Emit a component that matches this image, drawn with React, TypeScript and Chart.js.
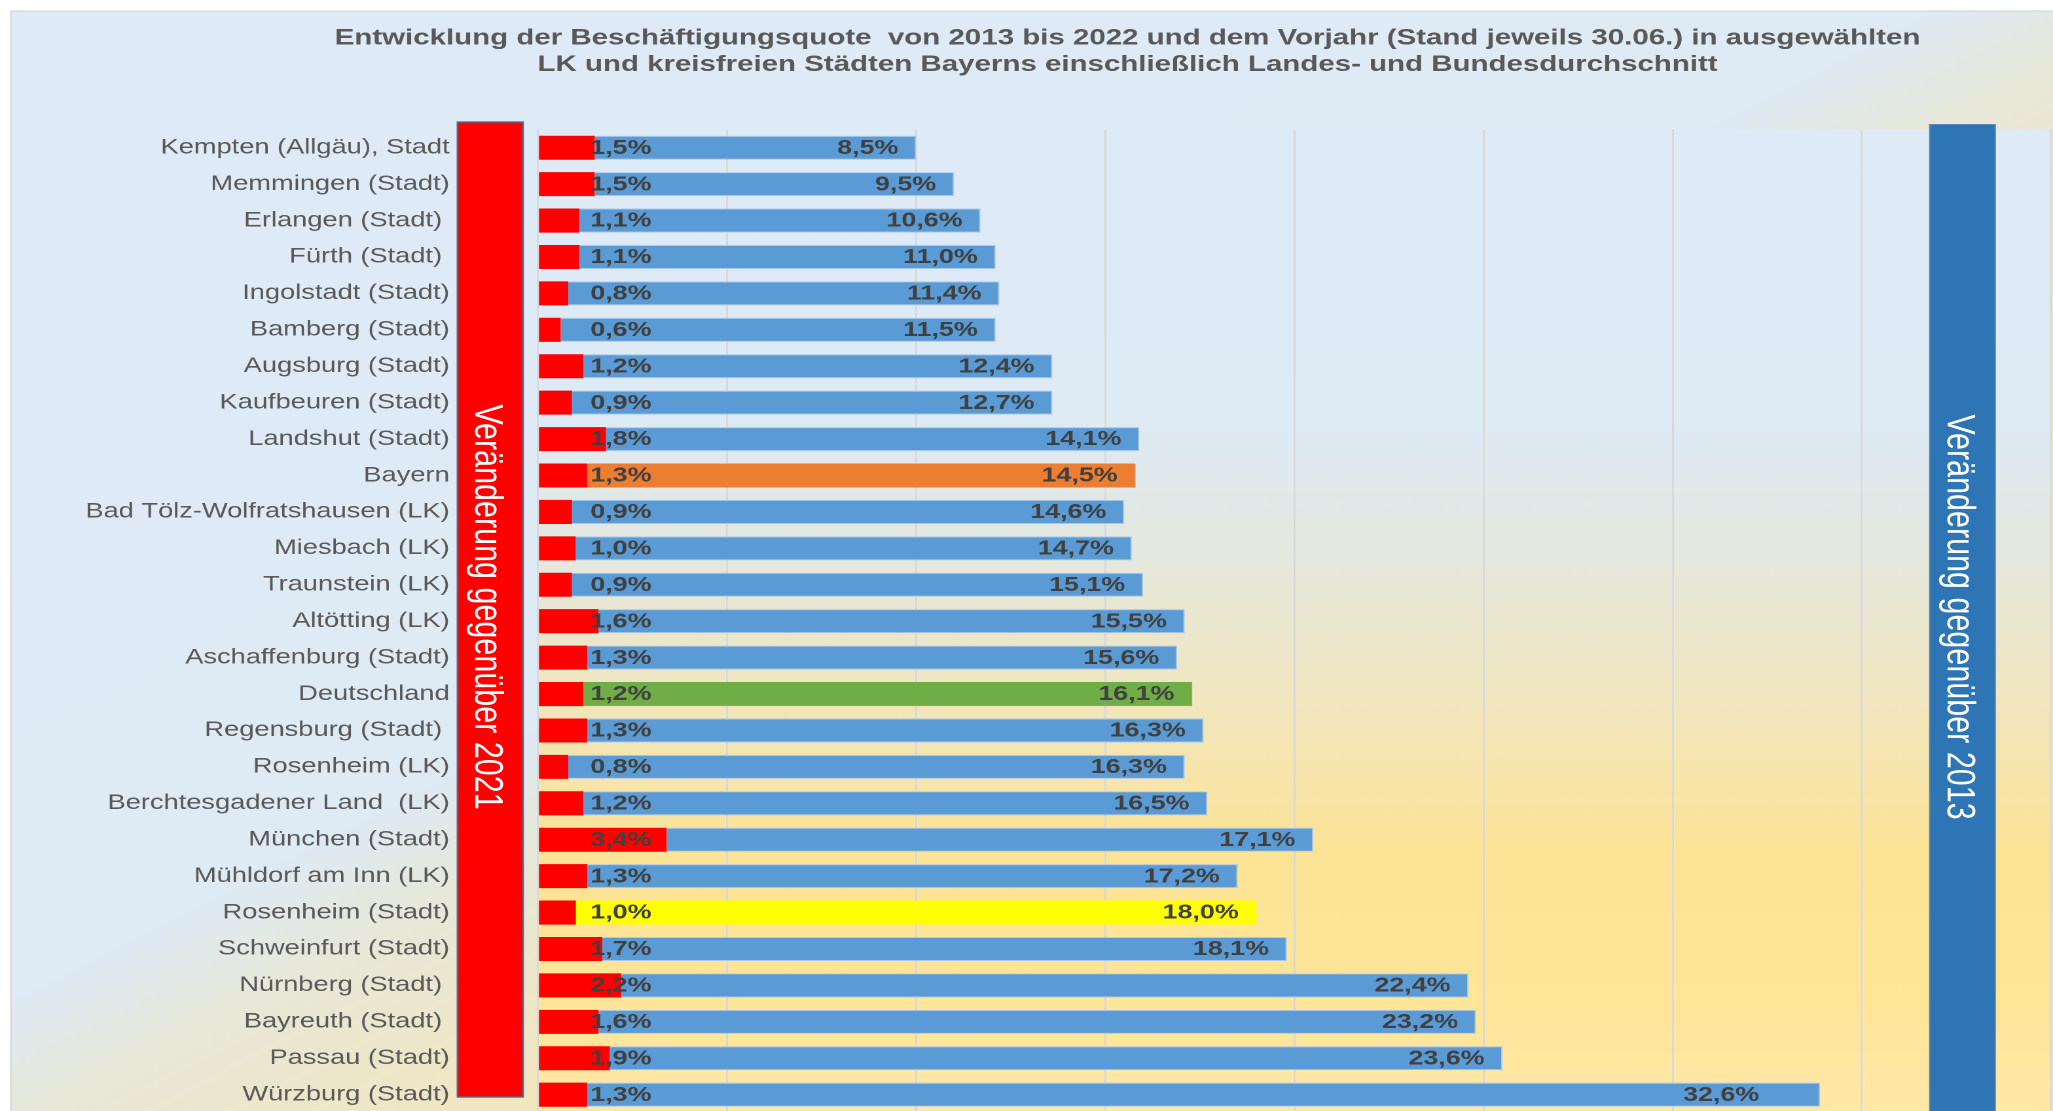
import React, { useEffect, useRef } from 'react';
import { Chart, registerables } from 'chart.js';

Chart.register(...registerables);

// ---------- data ----------
const categories = [
  'Kempten (Allgäu), Stadt',
  'Memmingen (Stadt)',
  'Erlangen (Stadt) ',
  'Fürth (Stadt) ',
  'Ingolstadt (Stadt)',
  'Bamberg (Stadt)',
  'Augsburg (Stadt)',
  'Kaufbeuren (Stadt)',
  'Landshut (Stadt)',
  'Bayern',
  'Bad Tölz-Wolfratshausen (LK)',
  'Miesbach (LK)',
  'Traunstein (LK)',
  'Altötting (LK)',
  'Aschaffenburg (Stadt)',
  'Deutschland',
  'Regensburg (Stadt) ',
  'Rosenheim (LK)',
  'Berchtesgadener Land  (LK)',
  'München (Stadt)',
  'Mühldorf am Inn (LK)',
  'Rosenheim (Stadt)',
  'Schweinfurt (Stadt)',
  'Nürnberg (Stadt) ',
  'Bayreuth (Stadt) ',
  'Passau (Stadt)',
  'Würzburg (Stadt)',
];

const change2021 = [1.5, 1.5, 1.1, 1.1, 0.8, 0.6, 1.2, 0.9, 1.8, 1.3, 0.9, 1.0, 0.9, 1.6, 1.3, 1.2, 1.3, 0.8, 1.2, 3.4, 1.3, 1.0, 1.7, 2.2, 1.6, 1.9, 1.3];
const change2013 = [8.5, 9.5, 10.6, 11.0, 11.4, 11.5, 12.4, 12.7, 14.1, 14.5, 14.6, 14.7, 15.1, 15.5, 15.6, 16.1, 16.3, 16.3, 16.5, 17.1, 17.2, 18.0, 18.1, 22.4, 23.2, 23.6, 32.6];

const titleLines = [
  'Entwicklung der Beschäftigungsquote  von 2013 bis 2022 und dem Vorjahr (Stand jeweils 30.06.) in ausgewählten',
  'LK und kreisfreien Städten Bayerns einschließlich Landes- und Bundesdurchschnitt',
];
const series2021Label = 'Veränderung gegenüber 2021';
const series2013Label = 'Veränderung gegenüber 2013';
const xTicks = [0, 5, 10, 15, 20, 25, 30, 35, 40];

// ---------- styling ----------
const FONT = "'Liberation Sans', Arial, sans-serif";
const W = 1568; // logical canvas width (stretched to 2053 on screen)
const H = 1120;
const highlight: Record<string, string> = {
  Bayern: '#ED7D31',
  Deutschland: '#70AD47',
  'Rosenheim (Stadt)': '#FFFF00',
};
const fmt = (v: number) => v.toFixed(1).replace('.', ',') + '%';

const decor = {
  id: 'decor',
  beforeDraw(chart: any) {
    const { ctx, chartArea: ca, width, height } = chart;
    ctx.save();
    ctx.fillStyle = '#FFFFFF';
    ctx.fillRect(0, 0, width, height);
    // outer chart background (diagonal gradient)
    const ox = 8.4, oy = 11;
    const g = ctx.createLinearGradient(ox, oy, ox + 0.56 * 1800, oy + 0.83 * 1800);
    g.addColorStop(0, '#DEEBF7');
    g.addColorStop(0.456, '#DEEAF4');
    g.addColorStop(0.508, '#E7E8DA');
    g.addColorStop(0.578, '#EEE7C8');
    g.addColorStop(0.667, '#F4E6B8');
    g.addColorStop(1, '#FBE4A3');
    ctx.fillStyle = g;
    ctx.fillRect(ox, oy, width, height);
    ctx.strokeStyle = '#D9D9D9';
    ctx.lineWidth = 1.3;
    ctx.strokeRect(ox, oy, width + 50, height + 50);
    // plot area background (vertical gradient)
    const pg = ctx.createLinearGradient(0, ca.top, 0, ca.bottom);
    pg.addColorStop(0, '#DEEBF7');
    pg.addColorStop(0.306, '#DEEAF4');
    pg.addColorStop(0.438, '#E5E8DD');
    pg.addColorStop(0.58, '#F1E6BF');
    pg.addColorStop(0.733, '#FCE396');
    pg.addColorStop(0.885, '#FFE598');
    pg.addColorStop(1, '#FFE9A8');
    ctx.fillStyle = pg;
    ctx.fillRect(ca.left, ca.top, ca.right - ca.left, ca.bottom - ca.top);
    ctx.restore();
  },
  afterDatasetsDraw(chart: any) {
    const { ctx } = chart;
    const xs = chart.scales.x;
    const ys = chart.scales.y;
    const metaBlue = chart.getDatasetMeta(1);
    ctx.save();
    ctx.font = `bold 20.5px ${FONT}`;
    ctx.fillStyle = '#404040';
    ctx.textAlign = 'right';
    ctx.textBaseline = 'middle';
    categories.forEach((_, i) => {
      const yc = ys.getPixelForValue(i) + 0.5;
      ctx.fillText(fmt(change2021[i]), xs.getPixelForValue(3), yc);
      const end = metaBlue.data[i].x;
      const inset = i === categories.length - 1 ? 46.6 : 13.7;
      ctx.fillText(fmt(change2013[i]), end - inset, yc);
    });
    ctx.restore();
  },
  afterDraw(chart: any) {
    const { ctx } = chart;
    ctx.save();
    // title
    ctx.font = `bold 22.5px ${FONT}`;
    ctx.fillStyle = '#595959';
    ctx.textAlign = 'center';
    ctx.textBaseline = 'alphabetic';
    ctx.fillText(titleLines[0], 861.2, 44.3);
    ctx.fillText(titleLines[1], 861.2, 71);

    // red box (change vs 2021)
    ctx.fillStyle = '#FF0000';
    ctx.fillRect(349.4, 122, 50.1, 975);
    ctx.strokeStyle = '#41719C';
    ctx.lineWidth = 1.3;
    ctx.strokeRect(349.4, 122, 50.1, 975);
    // blue box (change vs 2013)
    ctx.fillStyle = '#2E75B6';
    ctx.fillRect(1473.8, 124.5, 50.1, 1100);
    ctx.strokeStyle = '#5F86AD';
    ctx.lineWidth = 1;
    ctx.strokeRect(1473.8, 124.5, 50.1, 1100);

    ctx.font = `30.5px ${FONT}`;
    ctx.fillStyle = '#FFFFFF';
    ctx.textAlign = 'center';
    ctx.textBaseline = 'alphabetic';
    ctx.save();
    ctx.translate(362.8, 607);
    ctx.rotate(Math.PI / 2);
    ctx.fillText(series2021Label, 0, 0);
    ctx.restore();
    ctx.save();
    ctx.translate(1487.6, 617);
    ctx.rotate(Math.PI / 2);
    ctx.fillText(series2013Label, 0, 0);
    ctx.restore();
    ctx.restore();
  },
};

export default function App() {
  const ref = useRef<HTMLCanvasElement>(null);
  useEffect(() => {
    const canvas = ref.current;
    if (!canvas) return;
    const chart = new Chart(canvas, {
      type: 'bar',
      data: {
        labels: categories,
        datasets: [
          {
            label: series2021Label,
            data: change2021,
            backgroundColor: '#FF0000',
            borderWidth: 0,
            categoryPercentage: 1,
            barPercentage: 0.66,
          },
          {
            label: series2013Label,
            data: change2013,
            backgroundColor: categories.map((c) => highlight[c.trim()] ?? '#5B9BD5'),
            borderColor: categories.map((c) => highlight[c.trim()] ?? '#A9C9EA'),
            borderWidth: 1,
            categoryPercentage: 1,
            barPercentage: 0.66,
          },
        ],
      },
      options: {
        indexAxis: 'y',
        responsive: false,
        animation: false,
        devicePixelRatio: 2,
        layout: { padding: { left: 0, top: 129.5, right: 1.6, bottom: 7.1 } },
        plugins: {
          legend: { display: false },
          title: { display: false },
          tooltip: { enabled: false },
        },
        scales: {
          x: {
            type: 'linear',
            stacked: true,
            min: 0,
            max: 40,
            afterBuildTicks: (s: any) => {
              s.ticks = xTicks.map((v) => ({ value: v }));
            },
            ticks: { display: false },
            grid: { color: '#D9D9D9', lineWidth: 1.5, drawTicks: false },
            border: { display: false },
            afterFit: (s: any) => {
              s.height = 0;
              s.paddingLeft = 0;
              s.paddingRight = 0;
            },
          },
          y: {
            type: 'category',
            stacked: true,
            grid: { display: false, drawTicks: false },
            border: { display: false },
            ticks: {
              autoSkip: false,
              color: '#595959',
              font: { family: FONT, size: 20.8 },
              padding: 67.5,
            },
            afterFit: (s: any) => {
              s.width = 410.9;
              s.paddingTop = 0;
              s.paddingBottom = 0;
            },
          },
        },
      },
      plugins: [decor],
    } as any);
    return () => chart.destroy();
  }, []);

  return (
    <canvas
      ref={ref}
      width={W}
      height={H}
      style={{
        position: 'fixed',
        left: 0,
        top: 0,
        width: '2053px',
        height: `${H}px`,
        display: 'block',
      }}
    />
  );
}
